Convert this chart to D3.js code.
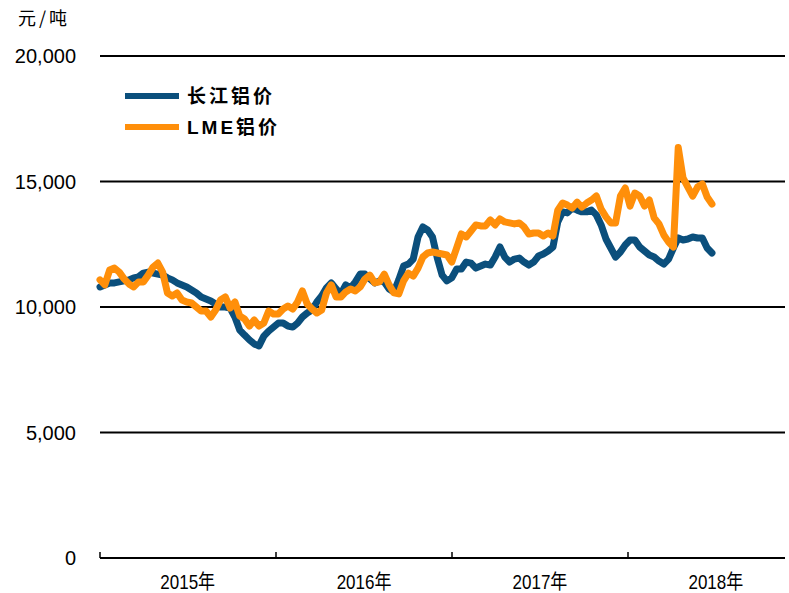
<!DOCTYPE html>
<html>
<head>
<meta charset="utf-8">
<script src="https://d3js.org/d3.v7.min.js"></script>
<style>
  html, body { margin: 0; padding: 0; background: #fff; }
  svg { display: block; }
  text { font-family: "Liberation Sans", Arial, "Noto Sans CJK SC", sans-serif; fill: #000; }
</style>
</head>
<body>
<div id="chart"></div>
<script>
// 数据：2015-01-01 起，每 10 天一个点（元/吨）
var startDate = new Date(2015, 0, 1);
var stepDays = 10;

var changjiang = [
  10800, 10880, 10960, 10960, 11000, 11040, 11080, 11160, 11200, 11350,
  11390, 11350, 11310, 11270, 11160, 11080, 10960, 10880, 10800, 10680,
  10560, 10400, 10320, 10240, 10120, 10000, 10000, 9960, 9600, 9080,
  8880, 8690, 8530, 8450, 8840, 9040, 9200, 9360, 9360, 9240,
  9200, 9360, 9600, 9760, 9880, 10200, 10440, 10760, 10960, 10720,
  10520, 10880, 10760, 11000, 11310, 11310, 11120, 10960, 11040, 11000,
  10720, 10600, 11080, 11630, 11710, 11910, 12790, 13190, 13070, 12790,
  11950, 11270, 11040, 11160, 11510, 11510, 11790, 11750, 11550, 11630,
  11710, 11670, 11990, 12390, 11990, 11790, 11910, 11950, 11790, 11670,
  11790, 12030, 12110, 12230, 12390, 13390, 13790, 13750, 13940, 13860,
  13790, 13790, 13860, 13670, 13270, 12710, 12350, 11990, 12190, 12470,
  12670, 12670, 12390, 12230, 12070, 11990, 11830, 11710, 11910, 12350,
  12750, 12670, 12710, 12790, 12750, 12750, 12350, 12150
];

var lme = [
  11080, 10880, 11470, 11550, 11390, 11120, 10920, 10800, 11000, 11000,
  11270, 11590, 11750, 11390, 10560, 10440, 10560, 10280, 10200, 10160,
  10000, 9840, 9840, 9600, 9880, 10280, 10400, 9960, 10200, 9640,
  9520, 9240, 9480, 9240, 9360, 9840, 9720, 9720, 9920, 10040,
  9920, 10200, 10640, 10120, 9920, 9760, 9880, 10560, 10880, 10400,
  10400, 10600, 10720, 10640, 10800, 11120, 11270, 10960, 11000, 11310,
  10880, 10560, 10520, 11040, 11350, 11230, 11550, 11990, 12150, 12190,
  12150, 12110, 12070, 11790, 12350, 12910, 12790, 13030, 13270, 13230,
  13230, 13470, 13270, 13510, 13390, 13350, 13310, 13350, 13190, 12910,
  12950, 12950, 12830, 12950, 12830, 13860, 14140, 14060, 13940, 14180,
  13980, 14140, 14260, 14420, 13900, 13590, 13350, 13350, 14420, 14740,
  14020, 14540, 14420, 14020, 14260, 13550, 13310, 12870, 12590, 12390,
  16350, 15140, 14780, 14420, 14780, 14900, 14380, 14100
];

var yearLabels = ["2015年", "2016年", "2017年", "2018年"];
var yTicks = [0, 5000, 10000, 15000, 20000];
var seriesNames = ["长江铝价", "LME铝价"];
var seriesColors = ["#0b4f7c", "#ff8f0a"];
var unitLabel = "元/吨";

var width = 789, height = 593;
var plotLeft = 100, plotRight = 785, plotTop = 56, plotBottom = 558;

var svg = d3.select("#chart").append("svg")
    .attr("width", width)
    .attr("height", height);

var x = d3.scaleTime()
    .domain([new Date(2015, 0, 1), new Date(2019, 0, 1)])
    .range([plotLeft, plotLeft + 4 * 176]);

var y = d3.scaleLinear()
    .domain([0, 20000])
    .range([plotBottom, plotTop]);

// 网格线
svg.append("g")
  .selectAll("line")
  .data(yTicks.filter(function(d) { return d > 0; }))
  .enter().append("line")
    .attr("x1", plotLeft)
    .attr("x2", plotRight)
    .attr("y1", function(d) { return y(d); })
    .attr("y2", function(d) { return y(d); })
    .attr("stroke", "#000")
    .attr("stroke-width", 2);

// y 轴标签
svg.append("g")
  .selectAll("text")
  .data(yTicks)
  .enter().append("text")
    .attr("x", 76)
    .attr("y", function(d) { return y(d); })
    .attr("dy", "0.36em")
    .attr("text-anchor", "end")
    .style("font-size", "20px")
    .text(function(d) { return d3.format(",")(d); });

svg.append("text")
    .attr("x", 18)
    .attr("y", 25)
    .style("font-family", "'Noto Sans CJK SC', sans-serif")
    .style("font-size", "18px")
    .style("letter-spacing", "3px")
    .text(unitLabel);

// x 轴
var years = yearLabels.map(function(d, i) { return new Date(2015 + i, 0, 1); });

svg.append("line")
    .attr("x1", plotLeft)
    .attr("x2", plotRight)
    .attr("y1", plotBottom)
    .attr("y2", plotBottom)
    .attr("stroke", "#000")
    .attr("stroke-width", 2);

svg.append("g")
  .selectAll("line")
  .data(years)
  .enter().append("line")
    .attr("x1", function(d) { return Math.round(x(d)); })
    .attr("x2", function(d) { return Math.round(x(d)); })
    .attr("y1", plotBottom - 6)
    .attr("y2", plotBottom)
    .attr("stroke", "#000")
    .attr("stroke-width", 1.5);

svg.append("g")
  .selectAll("text")
  .data(yearLabels)
  .enter().append("text")
    .attr("transform", function(d, i) {
      var mid = x(new Date(2015 + i, 6, 2));
      return "translate(" + mid + ",589) scale(0.85,1)";
    })
    .attr("text-anchor", "middle")
    .style("font-size", "20px")
    .text(function(d) { return d; });

// 折线
var line = d3.line()
    .x(function(d, i) { return x(d3.timeDay.offset(startDate, i * stepDays)); })
    .y(function(d) { return y(d); });

[changjiang, lme].forEach(function(series, k) {
  svg.append("path")
      .datum(series)
      .attr("d", line)
      .attr("fill", "none")
      .attr("stroke", seriesColors[k])
      .attr("stroke-width", 7)
      .attr("stroke-linejoin", "round")
      .attr("stroke-linecap", "round");
});

// 图例
var legend = svg.append("g");
seriesNames.forEach(function(name, k) {
  var ly = 96 + k * 31;
  legend.append("line")
      .attr("x1", 125)
      .attr("x2", 179)
      .attr("y1", ly)
      .attr("y2", ly)
      .attr("stroke", seriesColors[k])
      .attr("stroke-width", 6);
  legend.append("text")
      .attr("x", 187)
      .attr("y", ly)
      .attr("dy", "0.36em")
      .style("font-family", "'Liberation Sans', 'Noto Sans CJK SC', sans-serif")
      .style("font-size", "19px")
      .style("font-weight", "bold")
      .style("letter-spacing", "3px")
      .text(name);
});
</script>
</body>
</html>
